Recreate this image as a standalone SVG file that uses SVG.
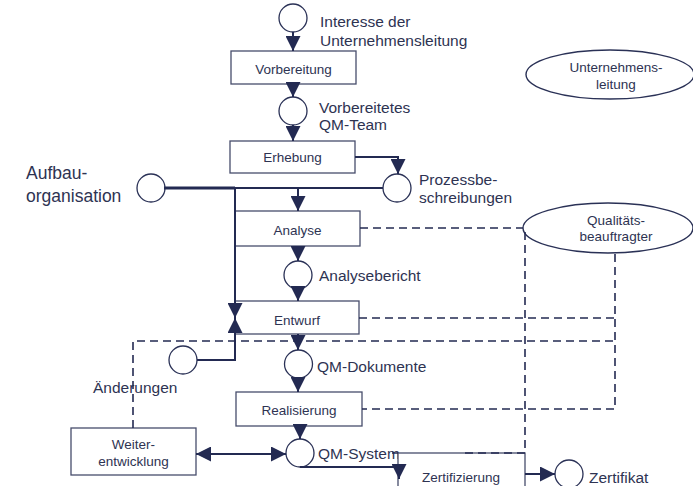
<svg xmlns="http://www.w3.org/2000/svg" width="693" height="486" viewBox="0 0 693 486">
<style>
.box{fill:#fff;stroke:#474d6c;stroke-width:1.3}
.ev{fill:#fff;stroke:#2a3156;stroke-width:1.3}
.ell{fill:#fff;stroke:#2a3156;stroke-width:1.4}
.ln{fill:none;stroke:#232a52;stroke-width:2}
.thick{fill:none;stroke:#232a52;stroke-width:3}
.dash{fill:none;stroke:#232a52;stroke-width:1.6;stroke-dasharray:8 5}
.bt{font-family:"Liberation Sans",Arial,sans-serif;font-size:13.5px;fill:#2e3352;text-anchor:middle}
.lb{font-family:"Liberation Sans",Arial,sans-serif;font-size:15.5px;fill:#2e3352}
.big{font-family:"Liberation Sans",Arial,sans-serif;font-size:17.5px;fill:#2e3352}
</style>
<defs>
<marker id="arr" markerUnits="userSpaceOnUse" markerWidth="15" markerHeight="15" refX="15" refY="7.5" orient="auto">
<path d="M0,0 L15,7.5 L0,15 z" fill="#232a52"/>
</marker>
<marker id="arrs" markerUnits="userSpaceOnUse" markerWidth="15" markerHeight="15" refX="15" refY="7.5" orient="auto-start-reverse">
<path d="M0,0 L15,7.5 L0,15 z" fill="#232a52"/>
</marker>
</defs>

<g id="n-interesse">
<circle class="ev" cx="293" cy="18" r="14"/>
<text class="lb" x="320" y="26.5">Interesse der</text>
<text class="lb" x="320" y="45.5">Unternehmensleitung</text>
</g>
<g id="n-vorbereitung">
<rect class="box" x="231" y="51" width="125" height="33"/>
<text class="bt" x="293.5" y="74">Vorbereitung</text>
</g>
<g id="n-qmteam">
<circle class="ev" cx="293" cy="111" r="14"/>
<text class="lb" x="319" y="113">Vorbereitetes</text>
<text class="lb" x="319" y="130">QM-Team</text>
</g>
<g id="n-erhebung">
<rect class="box" x="230" y="141" width="125" height="32"/>
<text class="bt" x="292.5" y="162">Erhebung</text>
</g>
<g id="n-prozess">
<circle class="ev" cx="397" cy="188" r="14"/>
<text class="lb" x="419" y="185">Prozessbe-</text>
<text class="lb" x="419" y="203">schreibungen</text>
</g>
<g id="n-aufbau">
<circle class="ev" cx="151" cy="188" r="14"/>
<text class="big" x="26" y="179">Aufbau-</text>
<text class="big" x="26" y="202">organisation</text>
</g>
<g id="n-analyse">
<rect class="box" x="235" y="211" width="125" height="35"/>
<text class="bt" x="297.5" y="235">Analyse</text>
</g>
<g id="n-analysebericht">
<circle class="ev" cx="298" cy="275" r="14"/>
<text class="lb" x="319" y="281">Analysebericht</text>
</g>
<g id="n-entwurf">
<rect class="box" x="235" y="301" width="124" height="33"/>
<text class="bt" x="297" y="325">Entwurf</text>
</g>
<g id="n-aenderungen">
<circle class="ev" cx="183" cy="360" r="14"/>
<text class="lb" x="93" y="393">Änderungen</text>
</g>
<g id="n-qmdok">
<circle class="ev" cx="298.5" cy="364" r="14"/>
<text class="lb" x="317" y="372">QM-Dokumente</text>
</g>
<g id="n-realisierung">
<rect class="box" x="236" y="392" width="126" height="34"/>
<text class="bt" x="299" y="415">Realisierung</text>
</g>
<g id="n-weiter">
<rect class="box" x="71" y="428" width="125" height="47"/>
<text class="bt" x="133.5" y="449">Weiter-</text>
<text class="bt" x="133.5" y="466">entwicklung</text>
</g>
<g id="n-qmsystem">
<circle class="ev" cx="300" cy="453" r="14"/>
<text class="lb" x="318" y="459">QM-System</text>
</g>
<g id="n-zertifizierung">
<rect class="box" x="398" y="453" width="127" height="45"/>
<text class="bt" x="461" y="482">Zertifizierung</text>
</g>
<g id="n-zertifikat">
<circle class="ev" cx="569" cy="474" r="14"/>
<text class="lb" x="589" y="483">Zertifikat</text>
</g>
<g id="n-unternehmensleitung">
<ellipse class="ell" cx="610" cy="74.5" rx="84" ry="24.5"/>
<text class="bt" x="616" y="72">Unternehmens-</text>
<text class="bt" x="616" y="89">leitung</text>
</g>
<g id="n-qb">
<ellipse class="ell" cx="608" cy="228" rx="85" ry="25"/>
<text class="bt" x="616" y="225">Qualitäts-</text>
<text class="bt" x="616" y="241">beauftragter</text>
</g>

<g id="connectors">
<line class="ln" x1="293" y1="32" x2="293" y2="51" marker-end="url(#arr)"/>
<line class="ln" x1="293" y1="84" x2="293" y2="97" marker-end="url(#arr)"/>
<line class="ln" x1="293" y1="125" x2="293" y2="141" marker-end="url(#arr)"/>
<polyline class="ln" points="355,157 398,157 398,174" marker-end="url(#arr)"/>
<line class="thick" x1="164" y1="188" x2="235" y2="188"/>
<line class="ln" x1="235" y1="188" x2="383" y2="188"/>
<line class="ln" x1="298" y1="188" x2="298" y2="211" marker-end="url(#arr)"/>
<line class="ln" x1="235" y1="188" x2="235" y2="318" marker-end="url(#arr)"/>
<polyline class="ln" points="197,360 235,360 235,318" marker-end="url(#arr)"/>
<line class="ln" x1="298" y1="246" x2="298" y2="261" marker-end="url(#arr)"/>
<line class="ln" x1="298" y1="289" x2="298" y2="301" marker-end="url(#arr)"/>
<line class="ln" x1="298" y1="334" x2="298" y2="350" marker-end="url(#arr)"/>
<line class="ln" x1="298" y1="378" x2="298" y2="392" marker-end="url(#arr)"/>
<line class="ln" x1="300" y1="426" x2="300" y2="439" marker-end="url(#arr)"/>
<line class="ln" x1="196" y1="454" x2="286" y2="454" marker-start="url(#arrs)" marker-end="url(#arr)"/>
<polyline class="ln" points="300,467 399,467 399,479" marker-end="url(#arr)"/>
<line class="ln" x1="525" y1="474" x2="555" y2="474" marker-end="url(#arr)"/>
<line class="ln" x1="392" y1="453" x2="398" y2="453" style="stroke-width:1.5"/>
<path class="dash" d="M360,228 H523"/>
<path class="dash" d="M525,232 V453 H462"/>
<path class="dash" d="M615,254 V409 H362"/>
<path class="dash" d="M359,318 H615"/>
<path class="dash" d="M133,428 V341 H615"/>
</g>
</svg>
